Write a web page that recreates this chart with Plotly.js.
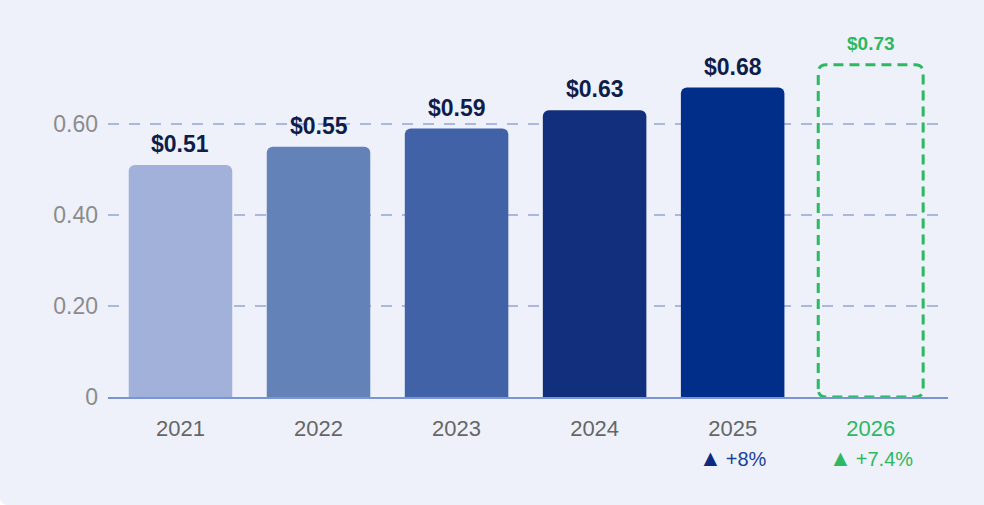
<!DOCTYPE html>
<html>
<head>
<meta charset="utf-8">
<script src="https://cdn.plot.ly/plotly-3.0.1.min.js"></script>
<style>
  html, body { margin: 0; padding: 0; background: #ffffff; width: 984px; height: 505px; overflow: hidden; }
  #card { position: absolute; left: 0; top: -20px; width: 1010px; height: 525px; background: #eef1fa; border-radius: 7px; }
  #chart { position: absolute; left: 0; top: 0; width: 984px; height: 505px; }
</style>
</head>
<body>
<div id="card"></div>
<div id="chart"></div>
<script>
// ---- data ----
const categories = ['2021', '2022', '2023', '2024', '2025', '2026'];
const actualValues = [0.51, 0.55, 0.59, 0.63, 0.68];
const forecastValue = 0.73;
const growthLabels = ['', '', '', '', '+8%', '+7.4%'];
const yTickVals = [0, 0.2, 0.4, 0.6];
const yTickText = ['0', '0.20', '0.40', '0.60'];

// ---- styles ----
const barColors = ['#a2b1da', '#6282b8', '#4262a8', '#122f7e', '#002e88'];
const green = '#2db862';
const labelNavy = '#0e1d4a';
const growthBlue = '#1c3f99';
const growthArrowBlue = '#0e2a80';
const font = 'Liberation Sans, Arial, sans-serif';

const actualX = actualValues.map((v, i) => i);
const forecastX = actualValues.length;
const barWidth = 0.75;

// rounded dashed outline for the forecast bar (data coordinates)
const pxPerX = 138, pxPerY = 455, r = 8;
const rx = r / pxPerX, ry = r / pxPerY;
const x0 = forecastX - 0.38, x1 = forecastX + 0.38, y0 = 0, y1 = forecastValue;
const boxPath = [
  'M', x0, y0 + ry,
  'L', x0, y1 - ry,
  'Q', x0, y1, x0 + rx, y1,
  'L', x1 - rx, y1,
  'Q', x1, y1, x1, y1 - ry,
  'L', x1, y0 + ry,
  'Q', x1, y0, x1 - rx, y0,
  'L', x0 + rx, y0,
  'Q', x0, y0, x0, y0 + ry, 'Z'
].join(' ');

const traces = [{
  type: 'bar',
  x: actualX,
  y: actualValues,
  width: barWidth,
  marker: { color: barColors, cornerradius: 6, line: { width: 0 } },
  hoverinfo: 'skip',
  showlegend: false
}];

const annotations = [];
actualValues.forEach((v, i) => {
  annotations.push({
    x: i, y: v, xref: 'x', yref: 'y',
    text: '$' + v.toFixed(2), showarrow: false,
    yanchor: 'middle', yshift: 21,
    font: { family: font, size: 23, color: labelNavy, weight: 'bold' }
  });
});
annotations.push({
  x: forecastX, y: forecastValue, xref: 'x', yref: 'y',
  text: '$' + forecastValue.toFixed(2), showarrow: false,
  yanchor: 'middle', yshift: 21,
  font: { family: font, size: 19, color: green, weight: 'bold' }
});
growthLabels.forEach((g, i) => {
  if (!g) return;
  const isF = i === forecastX;
  const arrowColor = isF ? green : growthArrowBlue;
  annotations.push({
    x: i, y: 0, xref: 'x', yref: 'y',
    text: '<span style="color:' + arrowColor + ';font-size:23px">▲</span>\u2009' + g,
    showarrow: false,
    yanchor: 'middle', yshift: -61,
    font: { family: font, size: 20, color: isF ? green : growthBlue }
  });
});

const tickText = categories.map((c, i) =>
  i === forecastX ? '<span style="color:' + green + '">' + c + '</span>' : c);

const layout = {
  width: 984, height: 505,
  margin: { l: 108, r: 36, t: 20, b: 108 },
  paper_bgcolor: 'rgba(0,0,0,0)',
  plot_bgcolor: 'rgba(0,0,0,0)',
  font: { family: font },
  showlegend: false,
  xaxis: {
    type: 'linear',
    range: [-0.525, 5.56],
    tickvals: categories.map((c, i) => i),
    ticktext: tickText,
    showgrid: false, zeroline: false,
    showline: true, linecolor: '#7b94d2', linewidth: 2,
    ticks: '', ticklabelstandoff: 11,
    tickfont: { family: font, size: 22, color: '#666666' },
    fixedrange: true
  },
  yaxis: {
    range: [0, 377 / 455],
    tickvals: yTickVals,
    ticktext: yTickText,
    showgrid: true, gridcolor: '#aab7de', gridwidth: 2, griddash: '11px,10px',
    zeroline: false, showline: false,
    ticks: '', ticklabelstandoff: 9,
    tickfont: { family: font, size: 23, color: '#8c8c8c' },
    fixedrange: true
  },
  shapes: [{
    type: 'path', xref: 'x', yref: 'y', path: boxPath,
    line: { color: green, width: 3, dash: '10px,6px' },
    fillcolor: 'rgba(0,0,0,0)'
  }],
  annotations: annotations
};

Plotly.newPlot('chart', traces, layout, { displayModeBar: false, staticPlot: true });
</script>
</body>
</html>
